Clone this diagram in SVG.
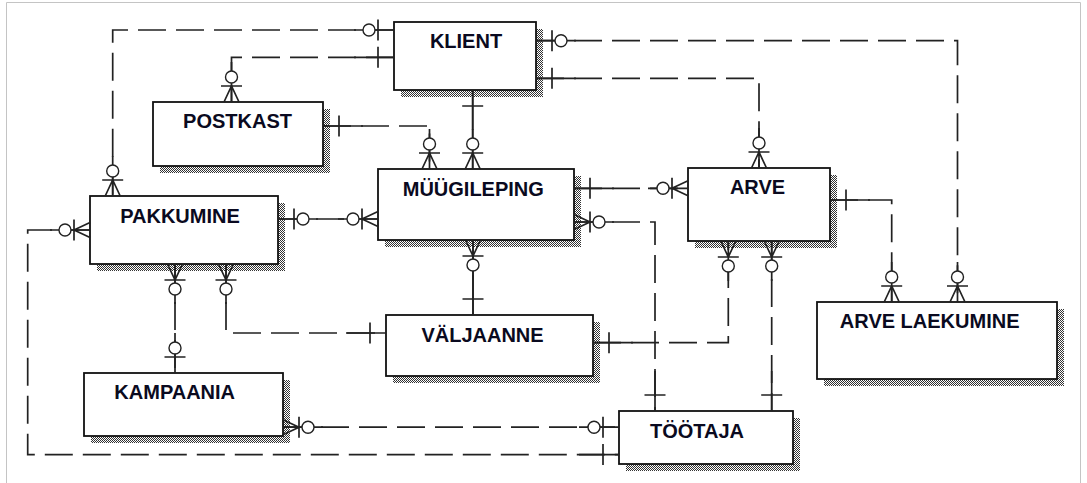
<svg xmlns="http://www.w3.org/2000/svg" xmlns:xlink="http://www.w3.org/1999/xlink" width="1087" height="483" viewBox="0 0 1087 483">
<style>
.frame{stroke:#c4c4c4;stroke-width:1;fill:none}
.box{fill:#fff;stroke:#111;stroke-width:1.8}
.shadow{fill:url(#dither)}
.lbl{font-family:"Liberation Sans",Arial,sans-serif;font-weight:bold;font-size:20px;fill:#0a0a20;text-anchor:middle}
.dash{fill:none;stroke:#222;stroke-width:1.7;stroke-dasharray:28 10}
.solid{fill:none;stroke:#222;stroke-width:1.7}
.sym{fill:none;stroke:#222;stroke-width:1.7}
.circ{fill:#fff;stroke:#222;stroke-width:1.4}
</style>
<defs>
<pattern id="dither" width="2" height="2" patternUnits="userSpaceOnUse">
<rect width="2" height="2" fill="#fff"/>
<rect x="0" y="0" width="1" height="1" fill="#333"/>
<rect x="1" y="1" width="1" height="1" fill="#333"/>
</pattern>
<g id="one"><path class="sym" d="M0,0V-40M-10.5,-16H10.5"/></g>
<g id="zone"><path class="sym" d="M0,0V-19M0,-31V-40M-10.5,-16H10.5"/><circle class="circ" cx="0" cy="-25" r="6"/></g>
<g id="zmany"><path class="sym" d="M-7.5,0L0,-16L7.5,0M0,0V-19M0,-31V-40M-10.5,-16H10.5"/><circle class="circ" cx="0" cy="-25" r="6"/></g>
</defs>
<rect width="1087" height="483" fill="#fff"/>
<path class="frame" d="M6.5,483V2.5H1080.5V483"/>

<g id="klient"><rect class="shadow" x="401" y="29" width="142" height="68"/><rect class="box" x="394" y="22" width="142" height="68"/><text class="lbl" x="466" y="47.5">KLIENT</text></g>
<g id="postkast"><rect class="shadow" x="160" y="109" width="170" height="64"/><rect class="box" x="153" y="102" width="170" height="64"/><text class="lbl" x="237.5" y="128">POSTKAST</text></g>
<g id="pakkumine"><rect class="shadow" x="97" y="203" width="188" height="68"/><rect class="box" x="90" y="196" width="188" height="68"/><text class="lbl" x="180" y="223">PAKKUMINE</text></g>
<g id="muugileping"><rect class="shadow" x="385" y="176" width="196" height="71"/><rect class="box" x="378" y="169" width="196" height="71"/><text class="lbl" x="473.3" y="195.5">MÜÜGILEPING</text></g>
<g id="arve"><rect class="shadow" x="695" y="175" width="142" height="73"/><rect class="box" x="688" y="168" width="142" height="73"/><text class="lbl" x="757.5" y="194">ARVE</text></g>
<g id="valjaanne"><rect class="shadow" x="393" y="322" width="207" height="61"/><rect class="box" x="386" y="315" width="207" height="61"/><text class="lbl" x="482.5" y="341.5">VÄLJAANNE</text></g>
<g id="arve-laekumine"><rect class="shadow" x="824" y="309" width="240" height="77"/><rect class="box" x="817" y="302" width="240" height="77"/><text class="lbl" x="929.7" y="328">ARVE LAEKUMINE</text></g>
<g id="kampaania"><rect class="shadow" x="91" y="380" width="199" height="63"/><rect class="box" x="84" y="373" width="199" height="63"/><text class="lbl" x="174.7" y="399">KAMPAANIA</text></g>
<g id="tootaja"><rect class="shadow" x="626" y="418" width="174" height="53"/><rect class="box" x="619" y="411" width="174" height="53"/><text class="lbl" x="697" y="437.5">TÖÖTAJA</text></g>

<g id="connectors">
<path class="dash" d="M394,30H112.7V196"/>
<use xlink:href="#zone" transform="translate(394,30) rotate(-90)"/>
<use xlink:href="#zmany" transform="translate(112.7,196)"/>
<path class="dash" d="M394,57.3H231.5V102"/>
<use xlink:href="#one" transform="translate(394,57.3) rotate(-90)"/>
<use xlink:href="#zmany" transform="translate(231.5,102)"/>
<path class="solid" d="M472.7,90V169"/>
<use xlink:href="#one" transform="translate(472.7,90) rotate(180)"/>
<use xlink:href="#zmany" transform="translate(472.7,169)"/>
<path class="dash" d="M323,126H429.5V169"/>
<use xlink:href="#one" transform="translate(323,126) rotate(90)"/>
<use xlink:href="#zmany" transform="translate(429.5,169)"/>
<path class="dash" d="M536,40.7H957.5V302"/>
<use xlink:href="#zone" transform="translate(536,40.7) rotate(90)"/>
<use xlink:href="#zmany" transform="translate(957.5,302)"/>
<path class="dash" d="M536,78.3H759V168"/>
<use xlink:href="#one" transform="translate(536,78.3) rotate(90)"/>
<use xlink:href="#zmany" transform="translate(759,168)"/>
<path class="dash" d="M278,219H378"/>
<use xlink:href="#zone" transform="translate(278,219) rotate(90)"/>
<use xlink:href="#zmany" transform="translate(378,219) rotate(-90)"/>
<path class="dash" d="M90,230H27.7V454.6H619"/>
<use xlink:href="#zmany" transform="translate(90,230) rotate(-90)"/>
<use xlink:href="#one" transform="translate(619,454.6) rotate(-90)"/>
<path class="dash" d="M175,264V373"/>
<use xlink:href="#zmany" transform="translate(175,264) rotate(180)"/>
<use xlink:href="#zone" transform="translate(175,373)"/>
<path class="dash" d="M226,264V333H386"/>
<use xlink:href="#zmany" transform="translate(226,264) rotate(180)"/>
<use xlink:href="#one" transform="translate(386,333) rotate(-90)"/>
<path class="dash" d="M574,188.3H688"/>
<use xlink:href="#one" transform="translate(574,188.3) rotate(90)"/>
<use xlink:href="#zmany" transform="translate(688,188.3) rotate(-90)"/>
<path class="dash" d="M574,222H655V411"/>
<use xlink:href="#zmany" transform="translate(574,222) rotate(90)"/>
<use xlink:href="#one" transform="translate(655,411)"/>
<path class="solid" d="M473,240V315"/>
<use xlink:href="#zmany" transform="translate(473,240) rotate(180)"/>
<use xlink:href="#one" transform="translate(473,315)"/>
<path class="dash" d="M593,342.7H728.3V241"/>
<use xlink:href="#one" transform="translate(593,342.7) rotate(90)"/>
<use xlink:href="#zmany" transform="translate(728.3,241) rotate(180)"/>
<path class="dash" d="M771.7,241V411"/>
<use xlink:href="#zmany" transform="translate(771.7,241) rotate(180)"/>
<use xlink:href="#one" transform="translate(771.7,411)"/>
<path class="dash" d="M830,200H891.7V302"/>
<use xlink:href="#one" transform="translate(830,200) rotate(90)"/>
<use xlink:href="#zmany" transform="translate(891.7,302)"/>
<path class="dash" d="M283,427.2H619"/>
<use xlink:href="#zmany" transform="translate(283,427.2) rotate(90)"/>
<use xlink:href="#zone" transform="translate(619,427.2) rotate(-90)"/>
</g>
</svg>
